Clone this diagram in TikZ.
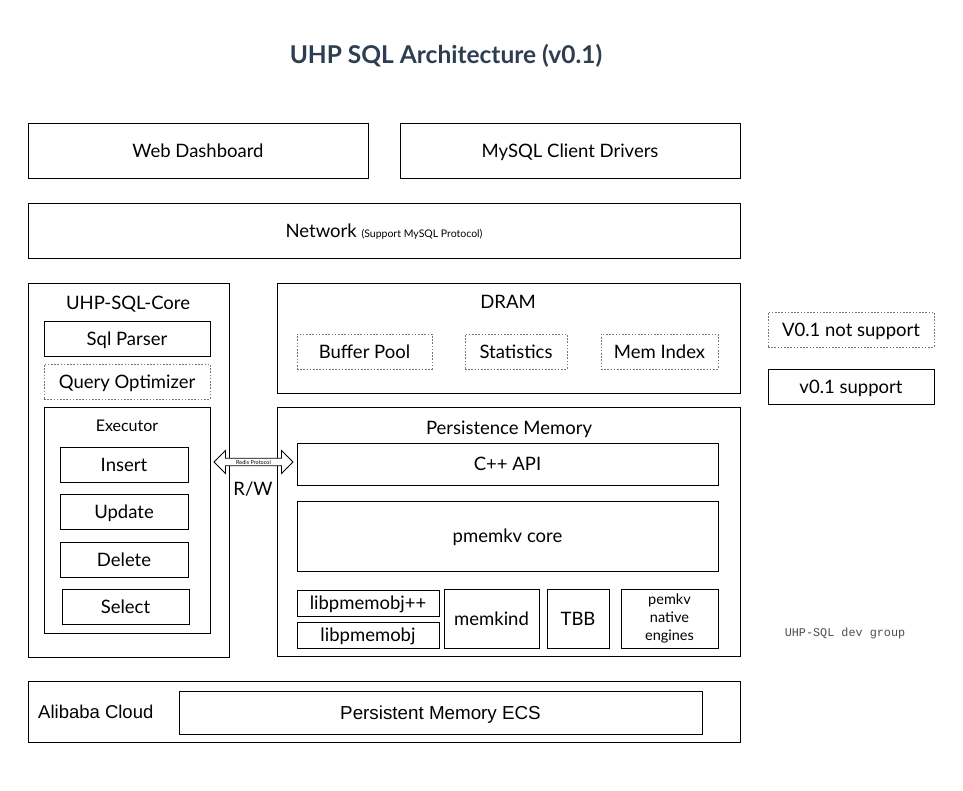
\documentclass[tikz,border=0pt]{standalone}
\usepackage{fontspec}
\setmainfont{Lato}
\newfontfamily\arialf{Liberation Sans}
\newfontfamily\courf{Liberation Mono}
\usetikzlibrary{shapes.arrows}
\definecolor{titlec}{HTML}{2C3E50}
\definecolor{dashc}{HTML}{777777}
\tikzset{
  solidbox/.style={draw=black, line width=0.9pt},
  dotbox/.style={draw=dashc, line width=0.8pt, dash pattern=on 1.6pt off 1.6pt},
  capc/.style={text height=13.4pt, text depth=0pt},
  lbl/.style={font=\fontsize{18.5}{22}\selectfont, inner sep=0pt, capc},
}
\newcommand\bx[7]{%
  \node[#6, inner sep=0pt, minimum width={(#4-#2)*1pt}, minimum height={(#5-#3)*1pt},
    capc, font=\fontsize{18.5}{22}\selectfont] (#1) at ({(#2+#4)/2},{(#3+#5)/2}) {#7};}
\begin{document}
\begin{tikzpicture}[x=1pt,y=-1pt]
\useasboundingbox (0,0) rectangle (963,790);
\node[font=\fontsize{24.5}{28}\selectfont\bfseries, text=titlec, inner sep=0pt, text height=17.5pt, text depth=0pt] (title) at (446,55) {UHP SQL Architecture (v0.1)};
% top row
\bx{web}{28}{123}{368}{178}{solidbox}{Web Dashboard}
\bx{mysql}{400}{123}{740}{178}{solidbox}{MySQL Client Drivers}
\bx{net}{28}{203}{740}{258}{solidbox}{Network {\fontsize{10.5}{12}\selectfont (Support MySQL Protocol)}}
% core
\bx{core}{28}{283}{229}{657}{solidbox}{}
\node[lbl] (corelbl) at (128,303) {UHP-SQL-Core};
\bx{parser}{44}{321}{210}{356}{solidbox}{Sql Parser}
\bx{opt}{44}{364}{210}{399}{dotbox}{Query Optimizer}
\bx{exec}{44}{407}{210}{633}{solidbox}{}
\node[lbl, font=\fontsize{16}{19}\selectfont, text height=11.5pt] (execlbl) at (127,426) {Executor};
\bx{ins}{60}{447}{188}{482}{solidbox}{Insert}
\bx{upd}{60}{494}{188}{529}{solidbox}{Update}
\bx{del}{60}{542}{188}{577}{solidbox}{Delete}
\bx{sel}{62}{589}{189}{624}{solidbox}{Select}
% DRAM
\bx{dram}{277}{283}{740}{393}{solidbox}{}
\node[lbl] (dramlbl) at (508,302) {DRAM};
\bx{bp}{297}{334}{432}{369}{dotbox}{Buffer Pool}
\bx{stat}{465}{334}{567}{369}{dotbox}{Statistics}
\bx{mi}{601}{334}{718}{369}{dotbox}{Mem Index}
% Persistence memory
\bx{pm}{277}{407}{740}{656}{solidbox}{}
\node[lbl] (pmlbl) at (509,428) {Persistence Memory};
\bx{api}{297}{443}{718}{485}{solidbox}{C++ API}
\bx{kvcore}{297}{501}{718}{571}{solidbox}{pmemkv core}
\bx{objpp}{297}{590}{439}{616}{solidbox}{libpmemobj++}
\bx{obj}{297}{622}{439}{648}{solidbox}{libpmemobj}
\bx{mk}{444}{589}{539}{648}{solidbox}{memkind}
\bx{tbb}{547}{589}{609}{648}{solidbox}{TBB}
\node[solidbox, inner sep=0pt, minimum width=97pt, minimum height=59pt, align=center,
  font=\fontsize{14.5}{18}\selectfont] (eng) at (669.5,618.5) {pemkv\\native\\engines};
% legend
\bx{notsup}{768}{312}{934}{347}{dotbox}{V0.1 not support}
\bx{sup}{768}{369}{934}{404}{solidbox}{v0.1 support}
\node[font=\courf\fontsize{11.8}{14}\selectfont, text=black!70, inner sep=0pt] (dev) at (845,633) {UHP-SQL dev group};
% cloud
\bx{cloud}{28}{681}{740}{742}{solidbox}{}
\node[font=\arialf\fontsize{18.5}{22}\selectfont, anchor=west, inner sep=0pt, capc] (cloudlbl) at (38,712) {Alibaba Cloud};
\node[solidbox, inner sep=0pt, minimum width=523pt, minimum height=43pt, capc,
  font=\arialf\fontsize{18.8}{22}\selectfont] (ecs) at (440.5,712.5) {Persistent Memory ECS};
% arrow
\node[double arrow, draw=black, line width=0.8pt, fill=white, minimum width=23pt,
  minimum height=79pt, double arrow head extend=5pt, inner sep=0pt, shape border uses incircle=false,
  font=\fontsize{5.5}{6}\selectfont] (redis) at (253.5,462) {Redis Protocol};
\node[lbl] (rw) at (253,489) {R/W};
\end{tikzpicture}
\end{document}
